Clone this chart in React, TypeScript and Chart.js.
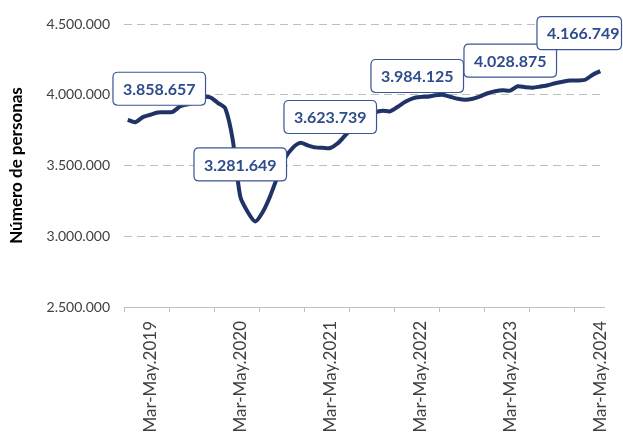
import React, { useEffect, useRef } from "react";
import { Chart, registerables } from "chart.js";

Chart.register(...registerables);

// ---- Data ----
const MONTHS = ["Ene", "Feb", "Mar", "Abr", "May", "Jun", "Jul", "Ago", "Sep", "Oct", "Nov", "Dic"];
const FIRST_END_MONTH = 1; // Feb
const FIRST_YEAR = 2019;
const N_PERIODS = 64;

const categories: string[] = Array.from({ length: N_PERIODS }, (_, i) => {
  const endAbs = FIRST_END_MONTH + i;
  const end = endAbs % 12;
  const year = FIRST_YEAR + Math.floor(endAbs / 12);
  const start = (end + 10) % 12;
  return `${MONTHS[start]}-${MONTHS[end]}.${year}`;
});

const values: number[] = [
  3823000, 3805300, 3842000, 3858657, 3874700, 3876000, 3879600, 3918600,
  3932700, 3950000, 3982000, 3982000, 3943000, 3904000, 3681000, 3281649,
  3171600, 3104400, 3171600, 3285000, 3426500, 3554000, 3625000, 3660000,
  3642500, 3628000, 3625000, 3623739, 3656600, 3713000, 3766000, 3816000,
  3851000, 3876000, 3887000, 3883000, 3915000, 3950000, 3975000, 3984125,
  3986000, 3996500, 4000000, 3986000, 3972000, 3964600, 3972000, 3989000,
  4010600, 4024800, 4032000, 4028875, 4060000, 4053000, 4049600, 4058000,
  4067000, 4081000, 4092000, 4101000, 4101000, 4106000, 4141600, 4166749,
];

const tickLabels: string[] = [
  "Mar-May.2019", "Mar-May.2020", "Mar-May.2021",
  "Mar-May.2022", "Mar-May.2023", "Mar-May.2024",
];

const yTicks: number[] = [2500000, 3000000, 3500000, 4000000, 4500000];

// Labelled periods (same as tick labels) and their box offsets (pixels)
const labelledPeriods: string[] = tickLabels;
const labelOffsets: [number, number][] = [
  [9, -26], [0, -32], [0, -31], [-3, -21], [0, -30], [-17, -38],
];

const fmt = (v: number) => Math.round(v).toString().replace(/\B(?=(\d{3})+(?!\d))/g, ".");

const LINE_COLOR = "#1F3366";
const LABEL_TEXT = "#2E4B8B";
const LABEL_BORDER = "#3A5596";
const GRID = "#BFBFBF";
const FONT = "Lato, 'Open Sans', sans-serif";

const boxLabels = {
  id: "boxLabels",
  afterDatasetsDraw(chart: any) {
    const meta = chart.getDatasetMeta(0);
    const ctx = chart.ctx;
    ctx.save();
    ctx.font = `bold 16px ${FONT}`;
    ctx.textAlign = "center";
    ctx.textBaseline = "middle";
    labelledPeriods.forEach((lab, k) => {
      const idx = categories.indexOf(lab);
      if (idx < 0) return;
      const pt = meta.data[idx];
      const text = fmt(values[idx]);
      const tw = ctx.measureText(text).width;
      const cx = pt.x + labelOffsets[k][0];
      const cy = pt.y + labelOffsets[k][1];
      const h = 33;
      let left = cx - tw / 2 - 10;
      let right = cx + tw / 2 + 10;
      if (right > chart.width - 1.5) right = chart.width - 1.5;
      const top = cy - h / 2;
      const r = 5;
      ctx.beginPath();
      ctx.moveTo(left + r, top);
      ctx.lineTo(right - r, top);
      ctx.quadraticCurveTo(right, top, right, top + r);
      ctx.lineTo(right, top + h - r);
      ctx.quadraticCurveTo(right, top + h, right - r, top + h);
      ctx.lineTo(left + r, top + h);
      ctx.quadraticCurveTo(left, top + h, left, top + h - r);
      ctx.lineTo(left, top + r);
      ctx.quadraticCurveTo(left, top, left + r, top);
      ctx.closePath();
      ctx.fillStyle = "#FFFFFF";
      ctx.fill();
      ctx.lineWidth = 1.2;
      ctx.strokeStyle = LABEL_BORDER;
      ctx.stroke();
      ctx.fillStyle = LABEL_TEXT;
      ctx.fillText(text, cx, cy + 1);
    });
    ctx.restore();
  },
};

export default function App() {
  const ref = useRef<HTMLCanvasElement | null>(null);

  useEffect(() => {
    document.body.style.margin = "0";
    if (!ref.current) return;
    const chart = new Chart(ref.current, {
      type: "line",
      data: {
        labels: categories,
        datasets: [
          {
            data: values,
            borderColor: LINE_COLOR,
            borderWidth: 4,
            pointRadius: 0,
            tension: 0.25,
            fill: false,
          },
        ],
      },
      options: {
        animation: false,
        responsive: false,
        maintainAspectRatio: false,
        layout: { padding: { left: 0, right: 19, top: 24, bottom: 0 } },
        plugins: {
          legend: { display: false },
          tooltip: { enabled: false },
        },
        scales: {
          x: {
            type: "category",
            offset: true,
            afterFit: (s: any) => {
              s.height = 125;
              s.paddingLeft = 0;
              s.paddingRight = 0;
            },
            grid: {
              offset: true,
              drawOnChartArea: false,
              drawTicks: true,
              tickLength: 5,
              color: (c: any) => (c.index % 6 === 0 && c.index < N_PERIODS ? GRID : "transparent"),
            },
            border: { display: true, color: GRID, width: 1 },
            ticks: {
              autoSkip: false,
              maxRotation: 90,
              minRotation: 90,
              padding: 9,
              color: "#404040",
              font: { family: FONT, size: 17 },
              callback: (_v: any, i: number) => (tickLabels.includes(categories[i]) ? categories[i] : ""),
            },
          },
          y: {
            min: 2500000,
            max: 4500000,
            afterFit: (s: any) => {
              s.width = 124;
            },
            afterBuildTicks: (s: any) => {
              s.ticks = yTicks.map((v) => ({ value: v }));
            },
            grid: { color: GRID, drawTicks: false, lineWidth: 1 },
            border: { display: false, dash: [8, 5] },
            ticks: {
              padding: 14,
              color: "#404040",
              font: { family: FONT, size: 14 },
              callback: (v: any) => fmt(Number(v)),
            },
            title: {
              display: true,
              text: "Número de personas",
              color: "#000000",
              font: { family: FONT, size: 17, weight: "bold" },
              padding: { top: 6, bottom: 0 },
            },
          },
        },
      },
      plugins: [boxLabels],
    });
    return () => chart.destroy();
  }, []);

  return (
    <div style={{ width: 623, height: 432 }}>
      <canvas ref={ref} width={623} height={432} style={{ display: "block" }} />
    </div>
  );
}
